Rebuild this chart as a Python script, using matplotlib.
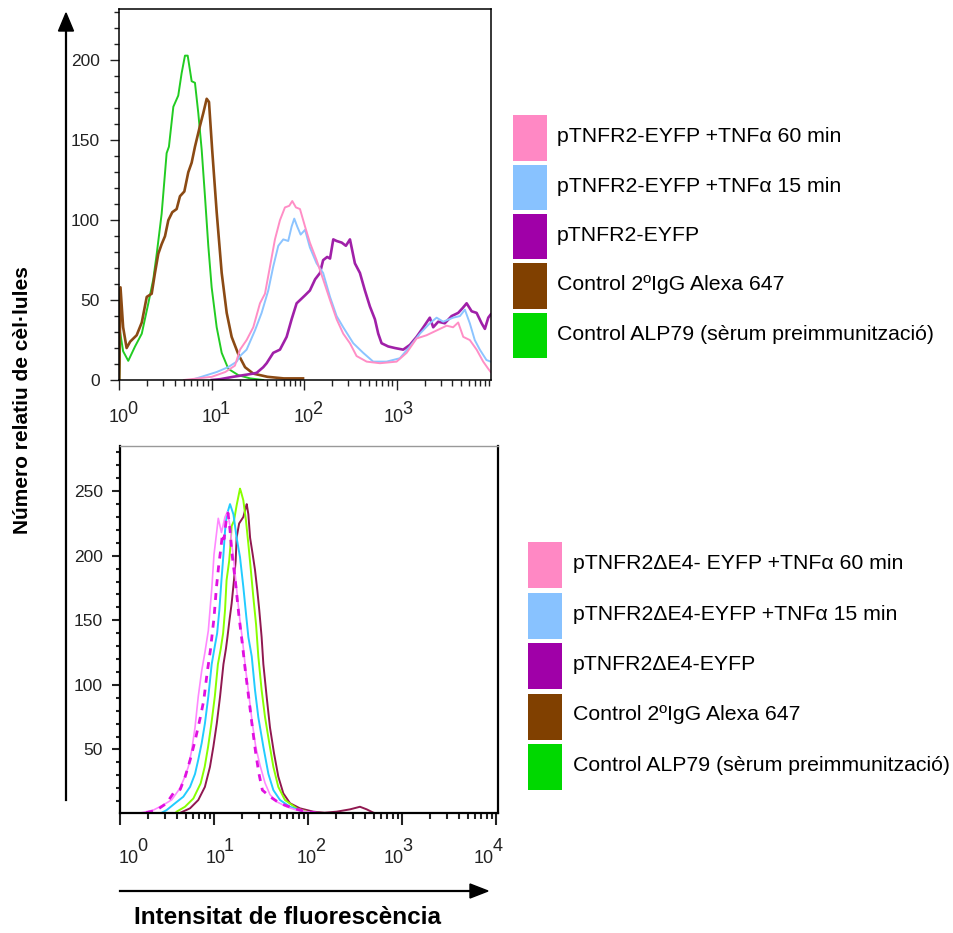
import matplotlib
matplotlib.use("Agg")
import matplotlib.pyplot as plt
import matplotlib.transforms as mtransforms
from matplotlib.patches import Rectangle, Polygon
from matplotlib.ticker import FixedLocator, NullFormatter

plt.rcParams['font.family'] = ['Liberation Sans', 'DejaVu Sans']

# ---- top panel: pTNFR2-EYFP (fluorescence intensity, cell count) ----
green_x = [1.0, 1.02, 1.1, 1.25, 1.48, 1.75, 2.06, 2.33, 2.54, 2.87, 3.25, 3.44, 3.84, 4.34, 4.72,
           5.13, 5.49, 6.06, 6.58, 7.15, 7.78, 8.44, 9.17, 9.97, 11.3, 12.8, 15.1, 19.4, 26, 36]
green_y = [0, 30, 18, 12, 21, 29, 48, 63, 79, 104, 142, 146, 171, 178, 192,
           203, 203, 187, 186, 167, 144, 115, 84, 58, 33, 17, 7, 3, 1, 0]

brown_x = [1.0, 1.03, 1.1, 1.2, 1.31, 1.54, 1.75, 1.98, 2.24, 2.43, 2.64, 2.87, 3.12, 3.39, 3.74,
           4.17, 4.53, 5.05, 5.57, 6.06, 6.58, 7.45, 8.09, 8.81, 9.33, 10.1, 11.3, 12.8, 14.5,
           16.4, 19.4, 22.9, 28.1, 40, 60, 97]
brown_y = [0, 58, 33, 20, 24, 28, 36, 52, 54, 67, 79, 85, 90, 100, 105,
           107, 115, 118, 130, 136, 146, 159, 167, 176, 174, 144, 105, 67, 42,
           27, 16, 8, 4, 2, 1, 1]

pink_x = [5, 10, 14, 17.8, 20.2, 23.8, 28.1, 33.2, 37.6, 42.6, 48.2, 54.6, 61.8, 68.8, 74.2,
          81.3, 89.9, 102, 115, 136, 160, 190, 224, 264, 312, 368, 473, 658, 997, 1280,
          1640, 2100, 2700, 3470, 4070, 4620, 5240, 6170, 7310, 8610, 9770, 10380]
pink_y = [0, 2, 5, 9, 19, 25, 33, 48, 54, 71, 88, 100, 108, 109, 112,
          108, 107, 96, 86, 75, 63, 50, 38, 29, 23, 15, 11.5, 10.5, 11.5, 17,
          26, 28, 31, 34, 33, 36, 27, 25, 19, 11.5, 7, 5]

blue_x = [6, 11.3, 15, 18.6, 20.2, 23.8, 29.3, 34.6, 40.8, 46.2, 52.4, 59.3, 67.1, 73, 78,
          84, 91.4, 102, 115, 136, 160, 190, 224, 264, 339, 434, 557, 776, 1080, 1390,
          1780, 2280, 2700, 3180, 4070, 4820, 5460, 6170, 6980, 7920, 9340, 10380]
blue_y = [0, 5, 8, 11.5, 15, 19, 31, 42, 56, 71, 84, 88, 87, 96, 101,
          96, 91, 94, 83, 73, 67, 52, 40, 33, 23, 17, 11.5, 11.5, 13.6, 21,
          29, 35.5, 39, 36.5, 39, 40, 44, 35.5, 25, 19, 12.5, 11.5]

purple_x = [10, 12.3, 17, 28, 30.6, 36, 39.2, 46.2, 54.6, 64.5, 73, 82.7, 90, 102, 115,
            131, 148, 160, 177, 190, 206, 224, 254, 282, 312, 353, 400, 453, 513, 581,
            631, 686, 809, 957, 1175, 1390, 1640, 1940, 2280, 2480, 2810, 3310, 3920,
            4620, 5160, 5700, 6460, 7310, 8280, 8980, 9770, 10380]
purple_y = [0, 0.5, 2, 4, 4.5, 8, 10.5, 17, 19, 27, 38, 48, 50, 53, 56,
            63, 67, 75, 77, 76, 88, 87, 86, 84, 88, 73, 67, 56, 46, 38,
            29, 23, 21, 20, 19, 22, 27, 33, 39, 33, 36.5, 35.5, 40,
            42, 45, 48, 43, 42, 35.5, 32, 39, 41]

top_labels = ['pTNFR2-EYFP +TNFα 60 min', 'pTNFR2-EYFP +TNFα 15 min', 'pTNFR2-EYFP',
              'Control 2ºIgG Alexa 647', 'Control ALP79 (sèrum preimmunització)']

# ---- bottom panel: pTNFR2ΔE4-EYFP ----
lpink_x = [1.7, 2.26, 2.89, 3.55, 4.35, 4.9, 5.33, 5.78, 6.28, 6.8, 7.4, 8.0, 8.7, 9.5, 10.0,
           10.7, 11.1, 12.0, 13.1, 13.9, 14.8, 15.4, 16.3, 17.2, 18.5, 20.0, 21.7, 23.6, 25.6,
           27.8, 30.8, 34.9, 39.4, 46.4, 59.3, 75.7, 97, 130]
lpink_y = [1, 3, 7, 11, 20, 29, 36.5, 49, 67, 91, 111, 125, 142, 176, 201,
           219, 229, 218, 230, 234, 223, 210, 195, 178, 155, 136, 112, 91, 70,
           52, 38, 24, 15, 9.5, 5.6, 3, 1.8, 1]

mag_x = [1.9, 2.45, 3.13, 3.69, 4.37, 4.94, 5.58, 6.3, 7.16, 7.78, 8.44, 9.16, 10.0, 10.6,
         11.2, 11.8, 12.3, 12.8, 13.5, 14.1, 14.8, 15.4, 17.0, 18.5, 20.0, 21.7, 23.6, 25.6,
         27.8, 30.1, 32.7, 39.4, 50, 70, 95, 120]
mag_y = [1, 3, 8.3, 16, 19, 29, 42, 57, 75, 88, 109, 127, 152, 175,
         192, 205, 217, 213, 228, 233, 220, 204, 178, 152, 132, 109, 88, 67,
         47, 31, 18.5, 13.4, 8.3, 4.4, 1.8, 1]

cyan_x = [2.7, 3.13, 3.85, 4.72, 5.56, 6.28, 6.8, 7.4, 8.0, 8.7, 9.45, 10.2, 10.8, 11.4, 12.0,
          12.6, 13.1, 13.6, 14.8, 16.1, 17.4, 18.9, 20.5, 21.9, 23.2, 25.2, 27.3, 29.6, 33.5,
          37.9, 42.8, 50.4, 64.4, 89, 120]
cyan_y = [0.5, 3, 8.3, 13.4, 21, 31, 42, 55, 70, 91, 116, 130, 140, 158, 181,
          201, 219, 231, 240, 232, 214, 199, 176, 155, 137, 122, 96, 75, 52,
          31, 18.5, 10.8, 5.6, 1.8, 0.5]

lime_x = [4.0, 4.91, 6.03, 7.21, 7.96, 8.65, 9.38, 10.2, 11.0, 11.8, 12.5, 13.1, 13.6, 14.5,
          15.0, 15.4, 16.3, 17.4, 18.9, 19.3, 20.5, 21.9, 23.2, 24.5, 26.2, 28, 29.6, 32.1,
          34.9, 38.7, 42.8, 48.3, 56.9, 75.7, 100, 130]
lime_y = [1.8, 5.6, 12, 23.7, 36.5, 52, 70, 91, 116, 128, 140, 158, 181, 196,
          209, 223, 227, 239, 252, 250, 243, 227, 209, 191, 168, 147, 122, 96,
          75, 55, 36.5, 21, 10.8, 4.4, 1.5, 0.5]

maroon_x = [4.4, 5.56, 6.8, 8.0, 9.06, 9.84, 10.7, 11.6, 12.6, 13.4, 13.9, 14.6, 15.4, 16.3,
            17.0, 17.4, 18.5, 20.5, 21.9, 22.3, 23.2, 24.2, 25.8, 27.3, 28.9, 30.3, 32.1,
            33.5, 36.3, 39.4, 43.5, 48.3, 54.6, 64.4, 82, 114, 150, 202, 280, 357, 421, 496, 560]
maroon_y = [1, 4.4, 10.8, 21, 36.5, 52, 70, 91, 116, 128, 137, 150, 163, 181,
            196, 214, 225, 230, 238, 240, 232, 214, 201, 189, 173, 158, 137,
            116, 91, 67, 47, 29, 16, 8.3, 4.4, 1.8, 1, 1.8, 3.6, 5.6, 3.6, 1, 0]

bottom_labels = ['pTNFR2ΔE4- EYFP +TNFα 60 min', 'pTNFR2ΔE4-EYFP +TNFα 15 min', 'pTNFR2ΔE4-EYFP',
                 'Control 2ºIgG Alexa 647', 'Control ALP79 (sèrum preimmunització)']

legend_colors = ['#FF88C4', '#88C2FF', '#A000A8', '#804000', '#00D800']

decades = [1, 10, 100, 1000, 10000]
exponents = ['0', '1', '2', '3', '4']

W, H = 954, 933
TICK_COLOR = '#222222'
fig = plt.figure(figsize=(W / 100, H / 100), dpi=100)


def add_axes_px(left, top, right, bottom):
    return fig.add_axes([left / W, 1 - bottom / H, (right - left) / W, (bottom - top) / H])


def minor_logs(hi):
    out = []
    for d in decades[:-1]:
        for m in range(2, 10):
            if d * m <= hi:
                out.append(d * m)
    return out


def decade_labels(ax, n, dxs, base_dy, sup_dy):
    # "10" with a full size raised exponent, offsets in pixels
    trans = mtransforms.blended_transform_factory(ax.transData, ax.transAxes)
    for d, e, dx in zip(decades[:n], exponents[:n], dxs):
        t1 = mtransforms.offset_copy(trans, fig=fig, x=dx, y=base_dy, units='dots')
        ax.text(d, 0, '10', transform=t1, ha='right', va='baseline', fontsize=13, color=TICK_COLOR)
        t2 = mtransforms.offset_copy(trans, fig=fig, x=dx - 1.5, y=sup_dy, units='dots')
        ax.text(d, 0, e, transform=t2, ha='left', va='baseline', fontsize=13, color=TICK_COLOR)


# top histogram
ax1 = add_axes_px(119.3, 9.3, 490.7, 380)
ax1.plot(green_x, green_y, color='#22CC22', lw=1.4)
ax1.plot(brown_x, brown_y, color='#8B4A14', lw=1.9)
ax1.plot(purple_x, purple_y, color='#A020A8', lw=1.9)
ax1.plot(blue_x, blue_y, color='#8CC4FF', lw=1.4)
ax1.plot(pink_x, pink_y, color='#FF8EC6', lw=1.4)
ax1.set_xscale('log')
ax1.set_xlim(1, 10380)
ax1.set_ylim(0, 232)
ax1.xaxis.set_major_locator(FixedLocator(decades[:4]))
ax1.xaxis.set_major_formatter(NullFormatter())
ax1.xaxis.set_minor_locator(FixedLocator(minor_logs(10000) + [10000]))
ax1.xaxis.set_minor_formatter(NullFormatter())
ax1.yaxis.set_major_locator(FixedLocator([0, 50, 100, 150, 200]))
ax1.yaxis.set_minor_locator(FixedLocator(list(range(10, 231, 10))))
ax1.tick_params(axis='x', which='major', length=7.2, width=1, colors=TICK_COLOR)
ax1.tick_params(axis='x', which='minor', length=4.3, width=1, colors=TICK_COLOR)
ax1.tick_params(axis='y', which='major', length=6.5, width=1, pad=7.4, labelsize=12.5, colors=TICK_COLOR)
ax1.tick_params(axis='y', which='minor', length=3.6, width=1, colors=TICK_COLOR)
for s in ax1.spines.values():
    s.set_linewidth(1.1)
decade_labels(ax1, 4, [9.5, 9.5, 9.5, 7], -41.7, -33.7)

# bottom histogram
ax2 = add_axes_px(120, 446, 497.7, 812.7)
ax2.plot(maroon_x, maroon_y, color='#901850', lw=1.4)
ax2.plot(lime_x, lime_y, color='#88FF00', lw=1.4)
ax2.plot(cyan_x, cyan_y, color='#22CCFF', lw=1.4)
ax2.plot(lpink_x, lpink_y, color='#FF88FF', lw=1.2)
ax2.plot(mag_x, mag_y, color='#E010E0', lw=2, linestyle=(0, (2.5, 2.5)))
ax2.set_xscale('log')
ax2.set_xlim(1, 10420)
ax2.set_ylim(1, 285)
ax2.xaxis.set_major_locator(FixedLocator(decades))
ax2.xaxis.set_major_formatter(NullFormatter())
ax2.xaxis.set_minor_locator(FixedLocator(minor_logs(10000)))
ax2.xaxis.set_minor_formatter(NullFormatter())
ax2.yaxis.set_major_locator(FixedLocator([50, 100, 150, 200, 250]))
ax2.yaxis.set_minor_locator(FixedLocator(list(range(10, 281, 10))))
ax2.tick_params(axis='x', which='major', length=8.6, width=1.5, colors=TICK_COLOR)
ax2.tick_params(axis='x', which='minor', length=4.3, width=1.5, colors=TICK_COLOR)
ax2.tick_params(axis='y', which='major', length=5.8, width=1.5, pad=6.5, labelsize=12.5, colors=TICK_COLOR)
ax2.tick_params(axis='y', which='minor', length=2.9, width=1.5, colors=TICK_COLOR)
for name in ['left', 'bottom', 'right']:
    ax2.spines[name].set_linewidth(1.6)
ax2.spines['top'].set_linewidth(1)
ax2.spines['top'].set_color('#999999')
decade_labels(ax2, 5, [19, 11.5, 8.5, 2, -2], -50.6, -38)

# overlay in pixel coordinates for arrows, axis titles and legends
ov = fig.add_axes([0, 0, 1, 1])
ov.set_xlim(0, W)
ov.set_ylim(H, 0)
ov.axis('off')

ov.plot([66, 66], [800, 28], color='black', lw=1.6)
ov.add_patch(Polygon([[66, 13], [58.5, 31], [73.5, 31]], closed=True, color='black'))
ov.plot([120, 472], [891, 891], color='black', lw=1.6)
ov.add_patch(Polygon([[488, 891], [470, 884], [470, 898]], closed=True, color='black'))

ov.text(23, 400, 'Número relatiu de cèl·lules', rotation=90, ha='center', va='center',
        fontsize=15, fontweight='bold')
ov.text(288, 918, 'Intensitat de fluorescència', ha='center', va='center',
        fontsize=17.5, fontweight='bold')

for i, (lab, col) in enumerate(zip(top_labels, legend_colors)):
    yc = 138 + i * 49.3
    ov.add_patch(Rectangle((513, yc - 22.7), 34, 45.4, facecolor=col, edgecolor='none'))
    ov.text(557, yc - 1, lab, ha='left', va='center', fontsize=15.3)

for i, (lab, col) in enumerate(zip(bottom_labels, legend_colors)):
    yc = 565 + i * 50.5
    ov.add_patch(Rectangle((528, yc - 23), 34, 46, facecolor=col, edgecolor='none'))
    ov.text(573, yc - 1.5, lab, ha='left', va='center', fontsize=15.3)

fig.savefig('out.png', dpi=100)
